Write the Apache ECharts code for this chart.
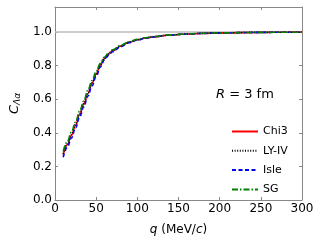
<!DOCTYPE html>
<html><head><meta charset="utf-8">
<script src="https://cdn.jsdelivr.net/npm/echarts@6/dist/echarts.min.js"></script>
<style>html,body{margin:0;padding:0;background:#fff}#c{width:322px;height:241px}</style>
</head><body><div id="c"></div>
<script>
const q = [10,15,20,25,30,35,40,45,50,55,60,65,70,80,90,100,110,120,140,160,180,200,250,300];
const chi3 = [0.27,0.33,0.385,0.445,0.51,0.57,0.635,0.695,0.75,0.803,0.842,0.869,0.889,0.918,0.94,0.955,0.965,0.973,0.983,0.989,0.993,0.996,0.999,1.0];
const lyiv = [0.275,0.335,0.39,0.45,0.515,0.575,0.64,0.7,0.755,0.806,0.845,0.871,0.891,0.919,0.941,0.955,0.965,0.973,0.983,0.989,0.993,0.996,0.999,1.0];
const isle = [0.255,0.315,0.37,0.43,0.495,0.555,0.62,0.68,0.737,0.792,0.834,0.862,0.884,0.914,0.937,0.953,0.964,0.972,0.983,0.989,0.993,0.996,0.999,1.0];
const sg = [0.29,0.35,0.405,0.465,0.53,0.59,0.655,0.712,0.765,0.814,0.851,0.876,0.895,0.922,0.943,0.957,0.967,0.974,0.984,0.99,0.994,0.996,0.999,1.0];
const names = ['Chi3','LY-IV','Isle','SG'];
const xTicks = [0,50,100,150,200,250,300];
const yTicks = [0.0,0.2,0.4,0.6,0.8,1.0];

const F = 'DejaVu Sans';
const axisGray = '#888';
function pairs(v){ return q.map((x,i)=>[x,v[i]]); }
function mk(name, data, color, type, z){
  return {name, type:'line', data:pairs(data), symbol:'none', showSymbol:false, smooth:0.4, smoothMonotone:'x', z,
    lineStyle:{color, width:1.6, type}, itemStyle:{color}};
}
const chart = echarts.init(document.getElementById('c'), null, {renderer:'canvas'});
const series = [
  mk(names[0], chi3, '#ff0000', 'solid', 2),
  mk(names[1], lyiv, '#000000', [1,1.6], 3),
  mk(names[2], isle, '#0000ff', [4,2.5], 4),
  mk(names[3], sg, '#008000', [6,2,1.5,2], 5),
  {type:'line', xAxisIndex:1, yAxisIndex:1, data:[], symbol:'none'}
];
series[0].markLine = {silent:true, symbol:'none', label:{show:false}, z:1,
  lineStyle:{color:'#bdbdbd', width:1.5, type:'solid'}, data:[{yAxis:1.0}]};
const tickCommon = {show:true, inside:true, length:3, lineStyle:{color:axisGray}};
const lineCommon = {show:true, onZero:false, lineStyle:{color:axisGray, width:1}};
chart.setOption({
  animation:false,
  textStyle:{fontFamily:F},
  grid:{left:46, right:20, top:7, bottom:39},
  xAxis:[{type:'value', min:0, max:300, interval:50,
    axisLine:lineCommon,
    axisTick:tickCommon,
    axisLabel:{color:'#000', fontSize:12, fontFamily:F, margin:3, formatter:v=>xTicks.includes(v)?String(v):''},
    splitLine:{show:false},
    name:'{i|q} (MeV/{i|c})', nameLocation:'middle', nameGap:24,
    nameTextStyle:{color:'#000', fontSize:12, fontFamily:F, rich:{i:{fontStyle:'italic', fontSize:12, fontFamily:F}}}
  },{type:'value', min:0, max:300, interval:50, position:'top', gridIndex:0,
    axisLine:lineCommon, axisTick:tickCommon,
    axisLabel:{show:false}, splitLine:{show:false}}],
  yAxis:[{type:'value', min:0, max:1.15, interval:0.2,
    axisLine:lineCommon,
    axisTick:tickCommon,
    axisLabel:{color:'#000', fontSize:12, fontFamily:F, margin:3, formatter:v=>yTicks.some(t=>Math.abs(t-v)<1e-6)?v.toFixed(1):''},
    splitLine:{show:false},
    name:'{i|C}{s|Λα}', nameLocation:'middle', nameGap:30, nameRotate:90,
    nameTextStyle:{color:'#000', fontFamily:F, rich:{i:{fontStyle:'italic', fontSize:13, fontFamily:F}, s:{fontStyle:'italic', fontSize:9, fontFamily:F, verticalAlign:'bottom', padding:[6,0,0,0]}}}
  },{type:'value', min:0, max:1.15, interval:0.2, position:'right', gridIndex:0,
    axisLine:lineCommon, axisTick:tickCommon,
    axisLabel:{show:false}, splitLine:{show:false}}],
  legend:{orient:'vertical', left:226, top:121, itemWidth:26, itemHeight:10, itemGap:8.3,
    data:names, textStyle:{fontSize:11, fontFamily:F, color:'#000'}, itemStyle:{opacity:0}},
  graphic:[{type:'text', left:216, top:88, style:{text:'{i|R} = 3 fm', fontFamily:F, fontSize:13, fill:'#000', rich:{i:{fontStyle:'italic', fontFamily:F, fontSize:13}}}}],
  series
});
</script></body></html>
